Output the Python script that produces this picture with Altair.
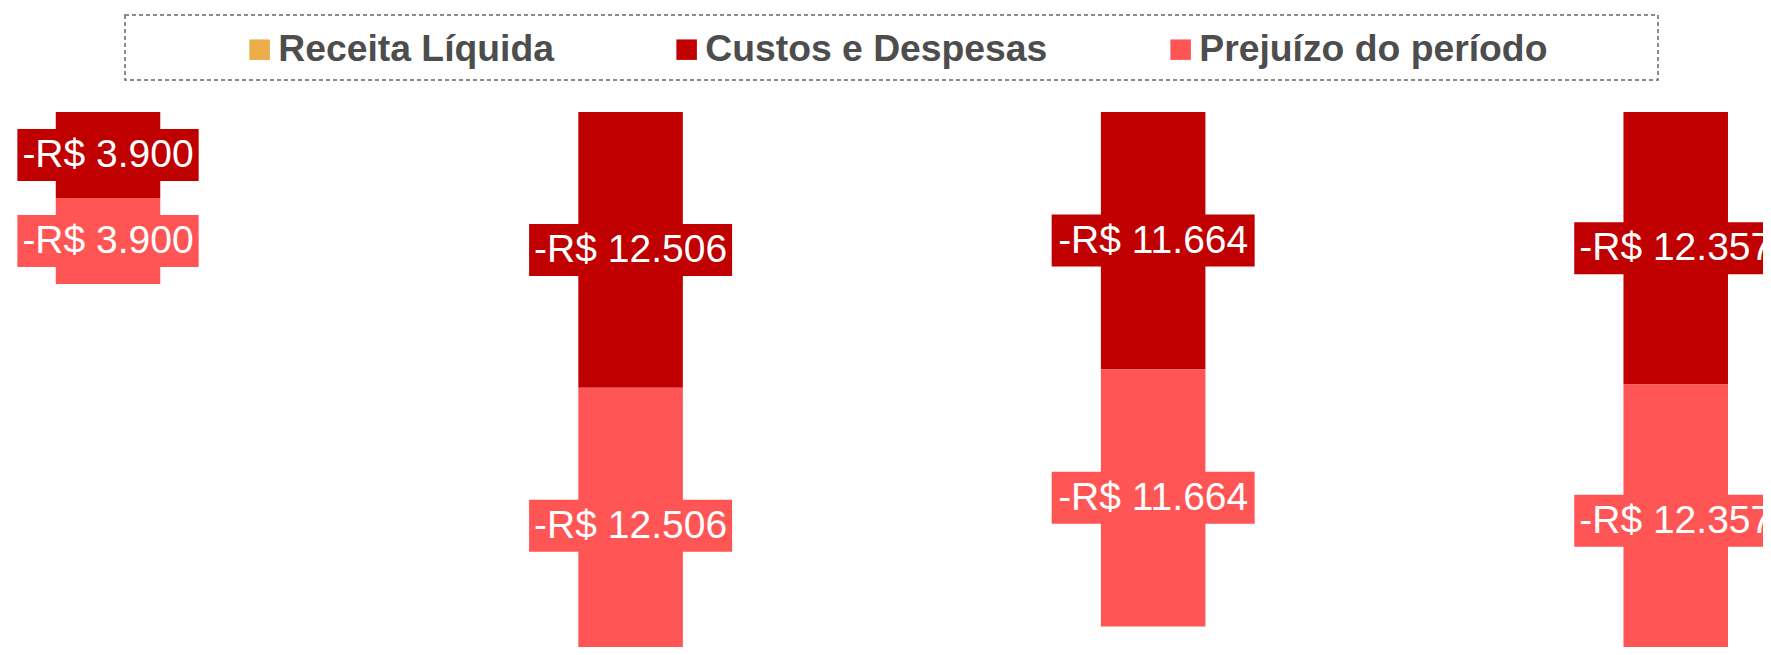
import altair as alt
import pandas as pd

# ---- data ----
periodos = ["Período 1", "Período 2", "Período 3", "Período 4"]
series = ["Receita Líquida", "Custos e Despesas", "Prejuízo do período"]
receita = [0, 0, 0, 0]
custos = [-3900, -12506, -11664, -12357]
prejuizo = [-3900, -12506, -11664, -12357]
cores = ["#EAAD47", "#C00000", "#FF5555"]


def fmt(v):
    return "-R$ " + f"{abs(v):,}".replace(",", ".")


rows = []
for i, p in enumerate(periodos):
    for j, (s, vals) in enumerate(zip(series, [receita, custos, prejuizo])):
        v = vals[i]
        rows.append({"periodo": p, "serie": s, "ordem": j, "valor": v,
                     "rotulo": fmt(v) if v != 0 else ""})
df = pd.DataFrame(rows)

W, H = 1755, 639
FONT = "Liberation Sans"

base = (
    alt.Chart(df)
    .transform_stack(stack="valor", groupby=["periodo"], as_=["v0", "v1"],
                     sort=[alt.SortField("ordem", order="ascending")], offset="zero")
    .transform_calculate(mid="(datum.v0 + datum.v1) / 2",
                         bw="21.7 * length(datum.rotulo) - 14")
)

xenc = alt.X("periodo:N", sort=periodos, axis=None,
             scale=alt.Scale(paddingInner=0.80, paddingOuter=0.0792, align=0.577,
                             round=False))
yscale = alt.Scale(domain=[-24262, 4716], nice=False, zero=False)

legend = alt.Legend(title=None, orient="none", legendX=233, legendY=23,
                    direction="horizontal", symbolType="square", symbolSize=420,
                    symbolStrokeWidth=0, labelFont=FONT, labelFontSize=37.3,
                    labelFontWeight="bold", labelColor="#4D4D4D", labelLimit=2000,
                    columnPadding=114, labelOffset=0, padding=0)
color = alt.Color("serie:N", scale=alt.Scale(domain=series, range=cores), legend=legend)

bars = base.mark_bar(clip=True).encode(
    x=xenc,
    y=alt.Y("v0:Q", scale=yscale, axis=None),
    y2="v1:Q",
    color=color,
)

boxes = base.transform_filter("datum.valor != 0").mark_bar(yOffset=-26, y2Offset=26).encode(
    x=xenc,
    y=alt.Y("mid:Q", scale=yscale, axis=None),
    y2=alt.Y2("mid:Q"),
    size=alt.Size("bw:Q", scale=None, legend=None),
    color=color,
)

texts = base.transform_filter("datum.valor != 0").mark_text(
    color="white", fontSize=39, font=FONT, baseline="middle", align="center"
).encode(
    x=xenc,
    y=alt.Y("mid:Q", scale=yscale, axis=None),
    text="rotulo:N",
)

frame = alt.Chart(pd.DataFrame({"k": [0]})).mark_rect(
    filled=False, stroke="#666666", strokeDash=[4, 3], strokeWidth=1.5
).encode(
    x=alt.value(117), x2=alt.value(1650), y=alt.value(7), y2=alt.value(72)
)

chart = (
    alt.layer(frame, bars, boxes, texts)
    .properties(width=W, height=H, padding=0,
                autosize=alt.AutoSizeParams(type="none"), background="white")
    .configure_view(strokeWidth=0)
)

chart.save("out.html", embed_options={"renderer": "svg", "actions": False})
